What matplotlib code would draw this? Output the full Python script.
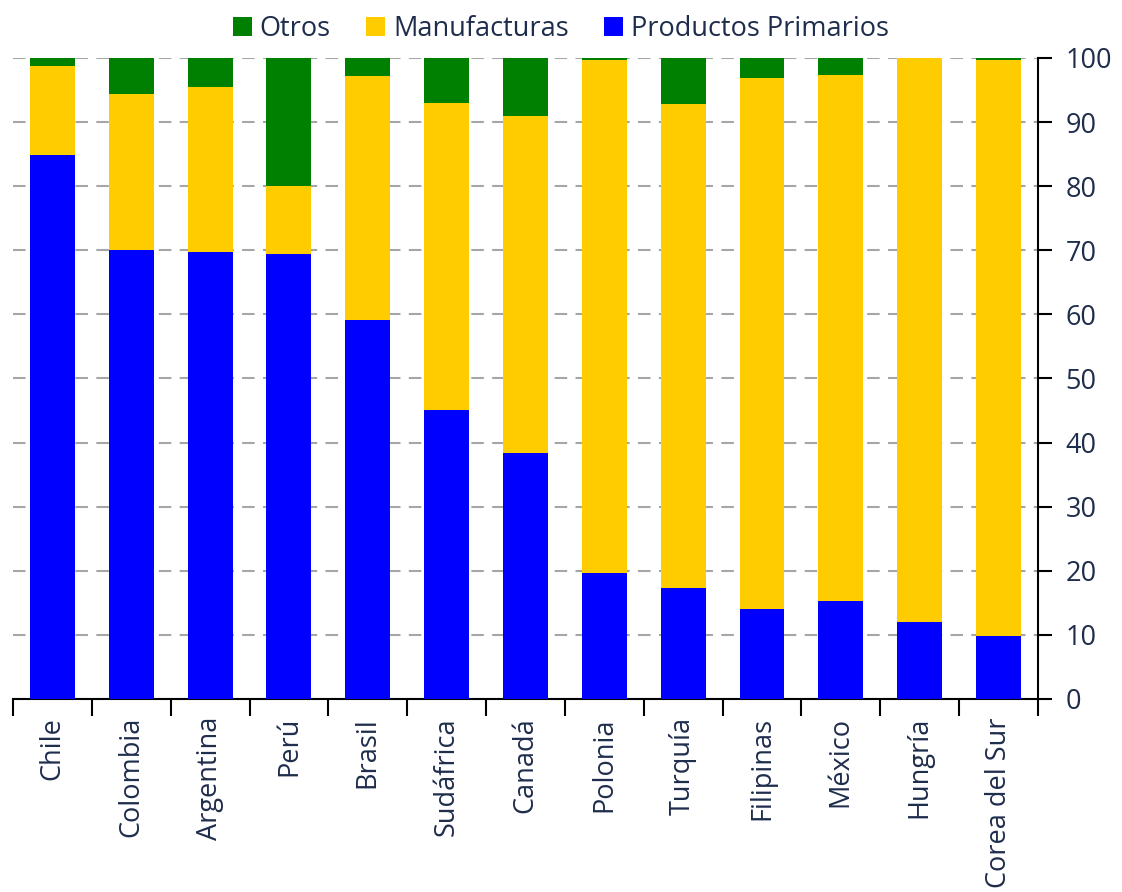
import numpy as np
import matplotlib.pyplot as plt
from matplotlib.ticker import FixedLocator

paises = ["Chile", "Colombia", "Argentina", "Perú", "Brasil", "Sudáfrica", "Canadá",
          "Polonia", "Turquía", "Filipinas", "México", "Hungría", "Corea del Sur"]
primarios = [84.9, 70.0, 69.7, 69.4, 59.1, 45.1, 38.4, 19.7, 17.3, 14.1, 15.3, 12.0, 9.8]
manufacturas = [13.8, 24.4, 25.8, 10.6, 38.1, 47.9, 52.6, 80.0, 75.5, 82.8, 82.0, 88.0, 89.9]
otros = [1.3, 5.6, 4.5, 20.0, 2.8, 7.0, 9.0, 0.3, 7.2, 3.1, 2.7, 0.0, 0.3]

azul = "#0000FF"
amarillo = "#FFCC00"
verde = "#008000"
texto = "#1F2D4D"

plt.rcParams['font.family'] = ['Open Sans', 'DejaVu Sans']

fig = plt.figure(figsize=(11.22, 8.92), dpi=100)
ax = fig.add_axes([0.0116, 0.2164, 0.9135, 0.7186])

x = np.arange(len(paises))
prim = np.array(primarios)
manu = np.array(manufacturas)
b1 = ax.bar(x, prim, width=0.57, color=azul, zorder=3)
b2 = ax.bar(x, manu, width=0.57, bottom=prim, color=amarillo, zorder=3)
b3 = ax.bar(x, otros, width=0.57, bottom=prim + manu, color=verde, zorder=3)

ax.set_xlim(-0.5, len(paises) - 0.5)
ax.set_ylim(0, 100)
ax.yaxis.tick_right()
ax.set_yticks(range(0, 101, 10))
ax.tick_params(axis='y', direction='out', length=10, width=1.5, colors='black',
               labelcolor=texto, labelsize=19.5, pad=10)
ax.set_xticks(x)
ax.set_xticklabels(paises, rotation=90, fontsize=19.5, color=texto)
ax.tick_params(axis='x', which='major', length=0, pad=13)
ax.xaxis.set_minor_locator(FixedLocator(np.arange(-0.5, len(paises), 1)))
ax.tick_params(axis='x', which='minor', direction='out', length=12, width=1.5)

ax.grid(axis='y', color='#A6A6A6', linestyle=(0, (6, 4)), linewidth=1.5, zorder=0)
for s in ['top', 'left']:
    ax.spines[s].set_visible(False)
ax.spines['bottom'].set_linewidth(1.5)
ax.spines['right'].set_linewidth(1.5)

leg = fig.legend([b3, b2, b1], ["Otros", "Manufacturas", "Productos Primarios"],
                 loc='upper center', bbox_to_anchor=(0.5, 1.01), ncol=3, frameon=False,
                 fontsize=19.5, handlelength=0.7, handleheight=0.7, handletextpad=0.3,
                 columnspacing=1.3)
for t in leg.get_texts():
    t.set_color(texto)

fig.savefig("out.png", dpi=100)
